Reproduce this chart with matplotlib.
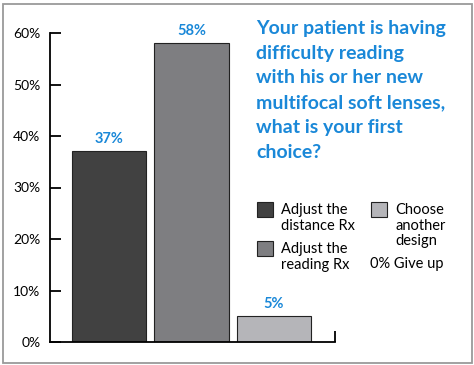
import matplotlib
matplotlib.use("Agg")
import matplotlib.pyplot as plt
from matplotlib.patches import Rectangle

# chart data
categories = ["Adjust the\ndistance Rx", "Adjust the\nreading Rx", "Choose\nanother\ndesign"]
values = [37, 58, 5]
give_up = 0
bar_colors = ["#414141", "#7e7e81", "#b5b5b9"]
yticks = [0, 10, 20, 30, 40, 50, 60]
title = ("Your patient is having\ndifficulty reading\nwith his or her new\n"
         "multifocal soft lenses,\nwhat is your first\nchoice?")

blue = "#1a88d8"
W, H = 474, 365
plt.rcParams["font.family"] = ["Lato", "DejaVu Sans"]

fig = plt.figure(figsize=(W / 100, H / 100), dpi=100)
fig.patch.set_facecolor("white")

# gray frame round the whole graphic
fig.patches.append(Rectangle((2.5 / W, 2.5 / H), 469 / W, 359 / H, transform=fig.transFigure,
                             fill=False, edgecolor="#9a9a9a", linewidth=1.3))

ax = fig.add_axes([50 / W, (H - 342) / H, 285 / W, 309 / H])
x = list(range(len(values)))
bars = ax.bar(x, values, width=0.9, color=bar_colors, edgecolor="#222222", linewidth=0.8)
for b, v in zip(bars, values):
    ax.text(b.get_x() + b.get_width() / 2, v + 1.0, f"{v}%", ha="center", va="bottom",
            color=blue, fontsize=10.5, fontweight="bold")

ax.set_xlim(-0.715, 2.74)
ax.set_ylim(0, 60)
ax.set_yticks(yticks)
ax.set_yticklabels([f"{t}%" for t in yticks])
ax.tick_params(axis="y", direction="in", length=8, width=1.3, pad=7, labelsize=10, colors="black")
ax.set_xticks([2.74])
ax.set_xticklabels([""])
ax.tick_params(axis="x", direction="in", length=8, width=1.3)
for s in ["top", "right"]:
    ax.spines[s].set_visible(False)
for s in ["left", "bottom"]:
    ax.spines[s].set_linewidth(1.3)

# title
fig.text(256 / W, 1 - 20 / H, title, ha="left", va="top", color=blue, fontsize=14,
         fontweight="bold", linespacing=1.55)

# legend drawn by hand
leg = [(257, 202, 0), (257, 241, 1), (371, 202, 2)]
for px, py, i in leg:
    fig.patches.append(Rectangle((px / W, 1 - (py + 15) / H), 16 / W, 15 / H,
                                 transform=fig.transFigure, facecolor=bar_colors[i],
                                 edgecolor="#222222", linewidth=0.8))
    fig.text((px + 24) / W, 1 - (py + 1) / H, categories[i], ha="left", va="top",
             fontsize=10.5, linespacing=1.15)
fig.text(370 / W, 1 - 264 / H, f"{give_up}% Give up", ha="left", va="center", fontsize=10.5)

fig.savefig("out.png", dpi=100)
